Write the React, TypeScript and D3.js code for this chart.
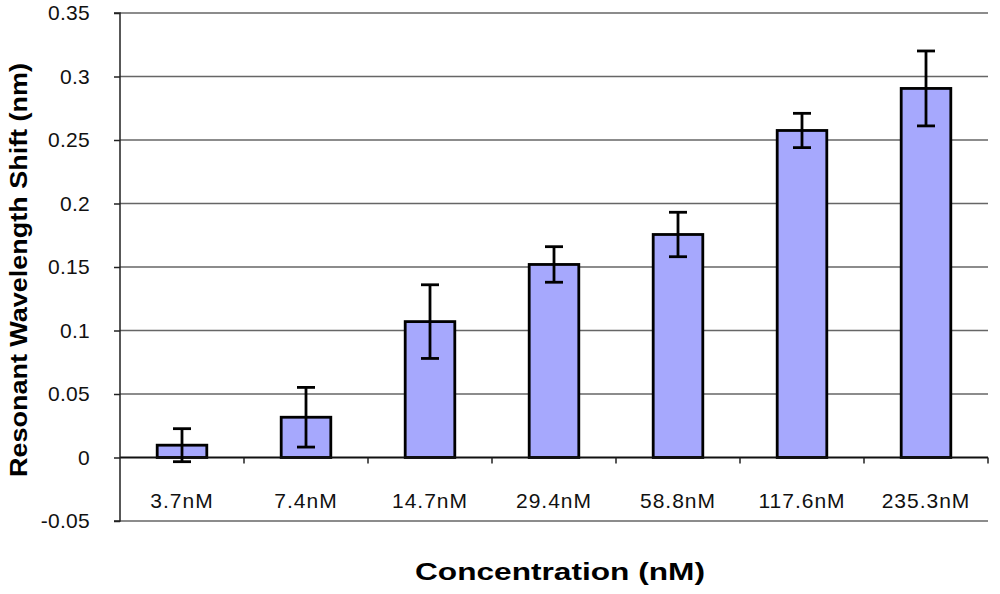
//@ts-nocheck
import * as d3 from "d3";
import { useRef, useEffect } from "react";

const categories = ["3.7nM", "7.4nM", "14.7nM", "29.4nM", "58.8nM", "117.6nM", "235.3nM"];
const values = [0.0097, 0.0317, 0.107, 0.152, 0.1756, 0.2575, 0.2906];
const errors = [0.013, 0.0235, 0.029, 0.014, 0.0175, 0.0135, 0.0295];
const yTicks = [-0.05, 0, 0.05, 0.1, 0.15, 0.2, 0.25, 0.3, 0.35];

const font = "Liberation Sans, Arial, sans-serif";

export default function App() {
  const width = 1000;
  const height = 594;
  const marginLeft = 120;
  const marginRight = 12;
  const marginTop = 13;
  const marginBottom = 73;

  const x = d3.scaleBand(categories, [marginLeft, width - marginRight]).paddingInner(0.6).paddingOuter(0.3);
  const band = d3.scaleBand(categories, [marginLeft, width - marginRight]);
  const y = d3.scaleLinear([-0.05, 0.35], [height - marginBottom, marginTop]);
  const gy = useRef<SVGGElement>();

  const fmt = (d) => (d === 0 ? "0" : String(d));

  useEffect(() => {
    const g = d3.select(gy.current);
    g.call(d3.axisLeft(y).tickValues(yTicks).tickSize(6).tickPadding(24).tickFormat(fmt));
    g.select(".domain").attr("stroke", "#222").attr("stroke-width", 1.5).attr("d", `M-6,${y(0.35)}H0V${y(-0.05)}H-6`);
    g.selectAll(".tick line").attr("stroke", "#222").attr("stroke-width", 1.5);
    g.selectAll(".tick text")
      .attr("font-family", font)
      .attr("font-size", 21)
      .attr("letter-spacing", 0.3)
      .attr("fill", "#111");
  }, [gy, y]);

  const capW = 9;

  return (
    <svg width={width} height={height} style={{ position: "absolute", left: 0, top: 0, background: "#fff" }}>
      <g>
        {yTicks.filter((t) => t !== 0).map((t) => (
          <line key={t} x1={marginLeft} x2={width - marginRight} y1={y(t)} y2={y(t)} stroke="#666" strokeWidth="1.5" />
        ))}
      </g>
      <g fill="#a6a8fd" stroke="#000" strokeWidth="2.8">
        {categories.map((c, i) => (
          <rect key={c} x={x(c)} y={y(values[i])} width={x.bandwidth()} height={y(0) - y(values[i])} />
        ))}
      </g>
      <line x1={marginLeft} x2={width - marginRight} y1={y(0)} y2={y(0)} stroke="#111" strokeWidth="1.8" />
      <g stroke="#222" strokeWidth="1.5">
        {categories.map((c) => (
          <line key={c} x1={band(c) + band.bandwidth()} x2={band(c) + band.bandwidth()} y1={y(0)} y2={y(0) + 6} />
        ))}
      </g>
      <g stroke="#000" strokeWidth="2.8">
        {categories.map((c, i) => {
          const cx = x(c) + x.bandwidth() / 2;
          const y1 = y(values[i] + errors[i]);
          const y2 = y(values[i] - errors[i]);
          return (
            <g key={c}>
              <line x1={cx} x2={cx} y1={y1} y2={y2} />
              <line x1={cx - capW} x2={cx + capW} y1={y1} y2={y1} />
              <line x1={cx - capW} x2={cx + capW} y1={y2} y2={y2} />
            </g>
          );
        })}
      </g>
      <g fontFamily={font} fontSize="21" letterSpacing="1" fill="#111" textAnchor="middle">
        {categories.map((c) => (
          <text key={c} x={band(c) + band.bandwidth() / 2} y={508}>{c}</text>
        ))}
      </g>
      <g ref={gy} transform={`translate(${marginLeft},0)`} />
      <text
        transform={`translate(27,270) rotate(-90)`}
        textAnchor="middle"
        fontFamily={font}
        fontWeight="bold"
        fontSize="24"
        textLength="414"
        lengthAdjust="spacingAndGlyphs"
        fill="#000"
      >
        Resonant Wavelength Shift (nm)
      </text>
      <text
        x={560}
        y={580}
        textAnchor="middle"
        fontFamily={font}
        fontWeight="bold"
        fontSize="24"
        textLength="290"
        lengthAdjust="spacingAndGlyphs"
        fill="#000"
      >
        Concentration (nM)
      </text>
    </svg>
  );
}
